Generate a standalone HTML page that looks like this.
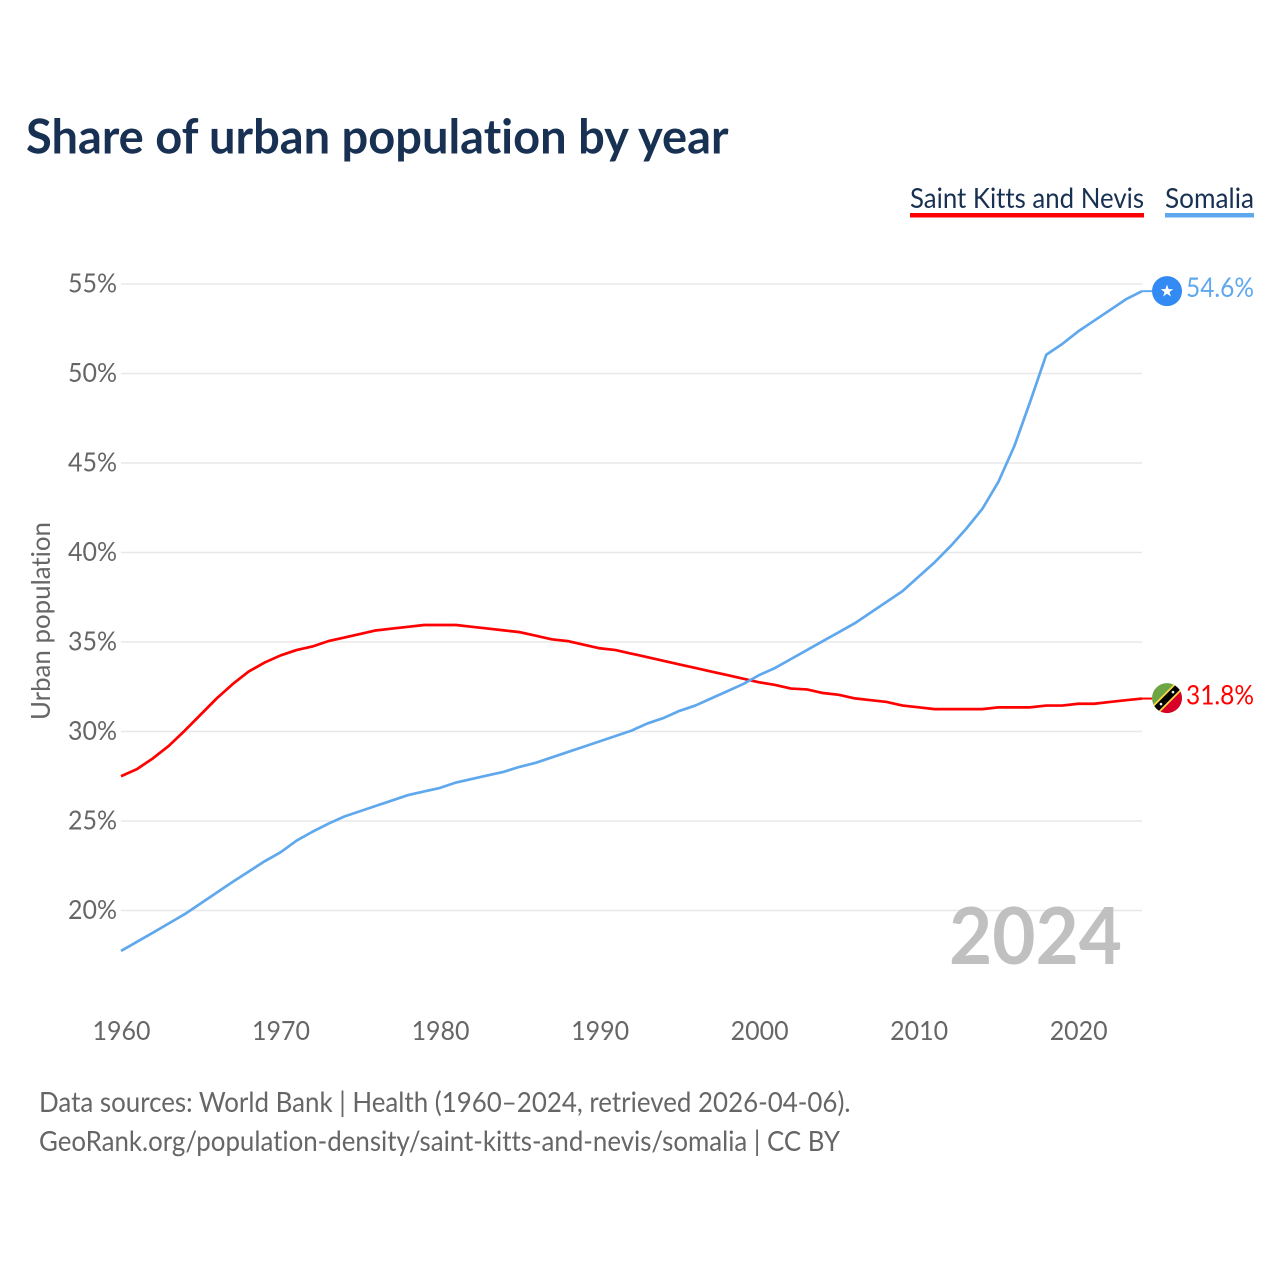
<!DOCTYPE html>
<html>
<head>
<meta charset="utf-8">
<style>
html,body{margin:0;padding:0;background:#fff;}
svg{display:block;}
text{font-family:"Lato","Carlito","Liberation Sans",sans-serif;font-variant-ligatures:none;}
</style>
</head>
<body>
<svg id="chart" xmlns="http://www.w3.org/2000/svg" width="1280" height="1280" viewBox="0 0 1280 1280">
  <rect x="0" y="0" width="1280" height="1280" fill="#ffffff"/>
  <text x="26" y="153.5" font-size="48" font-weight="700" fill="#183153" textLength="702.5" lengthAdjust="spacingAndGlyphs">Share of urban population by year</text>

  <g>
    <text x="910" y="208" font-size="28" fill="#183153" textLength="234" lengthAdjust="spacingAndGlyphs">Saint Kitts and Nevis</text>
    <rect x="910" y="213" width="234" height="4.5" fill="#ff0000"/>
  </g>
  <g>
    <text x="1165" y="208" font-size="28" fill="#183153" textLength="89" lengthAdjust="spacingAndGlyphs">Somalia</text>
    <rect x="1165" y="213" width="89" height="4.5" fill="#5fa8ee"/>
  </g>

  <g id="grid"></g>
  <g id="yticks"></g>
  <g id="xticks"></g>

  <text transform="translate(50,621) rotate(-90)" text-anchor="middle" font-size="26" fill="#666666" textLength="198" lengthAdjust="spacingAndGlyphs">Urban population</text>

  <text x="949" y="964" font-size="79" font-weight="700" fill="#c0c0c0" textLength="173" lengthAdjust="spacingAndGlyphs">2024</text>

  <path id="line-kitts" fill="none" stroke="#ff0000" stroke-width="2.7" stroke-linejoin="round"/>
  <path id="line-somalia" fill="none" stroke="#5fa8ee" stroke-width="2.7" stroke-linejoin="round"/>
  <path id="lead-kitts" fill="none" stroke="#ff0000" stroke-width="2"/>
  <path id="lead-somalia" fill="none" stroke="#5fa8ee" stroke-width="2"/>

  <defs>
    <clipPath id="kitts-clip"><circle cx="0" cy="0" r="15"/></clipPath>
  </defs>

  <g id="flag-somalia">
    <circle cx="0" cy="0" r="15" fill="#338af3"/>
    <polygon fill="#ffffff" points="0,-6.5 1.6,-2 6.3,-2 2.5,0.8 3.9,5.3 0,2.6 -3.9,5.3 -2.5,0.8 -6.3,-2 -1.6,-2"/>
  </g>

  <g id="flag-kitts">
    <g clip-path="url(#kitts-clip)">
      <rect x="-16" y="-16" width="32" height="32" fill="#6da544"/>
      <polygon points="16,-16 16,16 -16,16" fill="#d80027"/>
      <line x1="-16" y1="16" x2="16" y2="-16" stroke="#ffda44" stroke-width="10"/>
      <line x1="-16" y1="16" x2="16" y2="-16" stroke="#000000" stroke-width="6.5"/>
      <circle cx="-6" cy="6" r="1.3" fill="#f0f0f0"/>
      <circle cx="6" cy="-6" r="1.3" fill="#f0f0f0"/>
    </g>
  </g>

  <text id="value-somalia" x="1186" font-size="27" fill="#5fa8ee" textLength="68" lengthAdjust="spacingAndGlyphs"></text>
  <text id="value-kitts" x="1186" font-size="27" fill="#ff0000" textLength="68" lengthAdjust="spacingAndGlyphs"></text>

  <text x="39" y="1112" font-size="28" fill="#666666" textLength="811.5" lengthAdjust="spacingAndGlyphs">Data sources: World Bank | Health (1960–2024, retrieved 2026-04-06).</text>
  <text x="39" y="1151" font-size="28" fill="#666666" textLength="801" lengthAdjust="spacingAndGlyphs">GeoRank.org/population-density/saint-kitts-and-nevis/somalia | CC BY</text>
</svg>

<script>
const startYear = 1960;
const xTickYears = [1960, 1970, 1980, 1990, 2000, 2010, 2020];
const yTickValues = [20, 25, 30, 35, 40, 45, 50, 55];
const somaliaValues = [
  17.74, 18.25, 18.76, 19.28, 19.8, 20.4, 21.0, 21.6, 22.17, 22.75,
  23.25, 23.9, 24.4, 24.85, 25.25, 25.55, 25.85, 26.15, 26.45, 26.65,
  26.85, 27.15, 27.35, 27.55, 27.75, 28.03, 28.25, 28.55, 28.85, 29.15,
  29.45, 29.75, 30.05, 30.45, 30.75, 31.15, 31.45, 31.85, 32.25, 32.65,
  33.15, 33.55, 34.05, 34.55, 35.05, 35.55, 36.05, 36.65, 37.25, 37.85,
  38.65, 39.45, 40.35, 41.35, 42.45, 43.95, 45.95, 48.45, 51.05, 51.65,
  52.35, 52.95, 53.55, 54.15, 54.6
];
const kittsValues = [
  27.5, 27.9, 28.5, 29.2, 30.05, 30.95, 31.85, 32.65, 33.35, 33.85,
  34.25, 34.55, 34.75, 35.05, 35.25, 35.45, 35.65, 35.75, 35.85, 35.95,
  35.95, 35.95, 35.85, 35.75, 35.65, 35.55, 35.35, 35.15, 35.05, 34.85,
  34.65, 34.55, 34.35, 34.15, 33.95, 33.75, 33.55, 33.35, 33.15, 32.95,
  32.75, 32.6, 32.4, 32.35, 32.15, 32.05, 31.85, 31.75, 31.65, 31.45,
  31.35, 31.25, 31.25, 31.25, 31.25, 31.35, 31.35, 31.35, 31.45, 31.45,
  31.55, 31.55, 31.65, 31.75, 31.84
];

const SVG_NS = 'http://www.w3.org/2000/svg';
function xScale(year) { return 121 + (year - 1960) * (1142 - 121) / 64; }
function yScale(v) { return 910.5 - (v - 20) * (910.5 - 284) / 35; }

function linePath(values) {
  return values.map(function (v, i) {
    return (i ? 'L' : 'M') + xScale(startYear + i).toFixed(2) + ' ' + yScale(v).toFixed(2);
  }).join(' ');
}

const gridGroup = document.getElementById('grid');
const yGroup = document.getElementById('yticks');
const xGroup = document.getElementById('xticks');

yTickValues.forEach(function (v) {
  const y = yScale(v);
  const line = document.createElementNS(SVG_NS, 'line');
  
  
  line.setAttribute('x1', 121);
  line.setAttribute('x2', 1142);
  line.setAttribute('y1', y);
  line.setAttribute('y2', y);
  line.setAttribute('stroke', '#e8e8e8');
  line.setAttribute('stroke-width', '1.5');
  gridGroup.appendChild(line);

  const label = document.createElementNS(SVG_NS, 'text');
  
  
  label.setAttribute('x', 68);
  label.setAttribute('y', y + 8.5);
  label.setAttribute('font-size', '26');
  label.setAttribute('fill', '#666666');
  label.setAttribute('textLength', '49');
  label.setAttribute('lengthAdjust', 'spacingAndGlyphs');
  label.textContent = v + '%';
  yGroup.appendChild(label);
});

xTickYears.forEach(function (yr) {
  const label = document.createElementNS(SVG_NS, 'text');
  
  
  label.setAttribute('x', xScale(yr) - 28.5);
  label.setAttribute('y', 1040);
  label.setAttribute('font-size', '26');
  label.setAttribute('fill', '#666666');
  label.setAttribute('textLength', '58');
  label.setAttribute('lengthAdjust', 'spacingAndGlyphs');
  label.textContent = yr;
  xGroup.appendChild(label);
});

document.getElementById('line-somalia').setAttribute('d', linePath(somaliaValues));
document.getElementById('line-kitts').setAttribute('d', linePath(kittsValues));

const lastYear = startYear + somaliaValues.length - 1;
const somaliaLast = somaliaValues[somaliaValues.length - 1];
const kittsLast = kittsValues[kittsValues.length - 1];
const somaliaY = yScale(somaliaLast);
const kittsY = yScale(kittsLast);

document.getElementById('lead-somalia').setAttribute('d', 'M' + xScale(lastYear) + ' ' + somaliaY + ' H1152');
document.getElementById('lead-kitts').setAttribute('d', 'M' + xScale(lastYear) + ' ' + kittsY + ' H1152');
document.getElementById('flag-somalia').setAttribute('transform', 'translate(1167,' + somaliaY + ')');
document.getElementById('flag-kitts').setAttribute('transform', 'translate(1167,' + (kittsY - 0.5) + ')');

const valueSomalia = document.getElementById('value-somalia');
valueSomalia.setAttribute('y', somaliaY + 6);
valueSomalia.textContent = somaliaLast.toFixed(1) + '%';
const valueKitts = document.getElementById('value-kitts');
valueKitts.setAttribute('y', kittsY + 6);
valueKitts.textContent = kittsLast.toFixed(1) + '%';
</script>
</body>
</html>
